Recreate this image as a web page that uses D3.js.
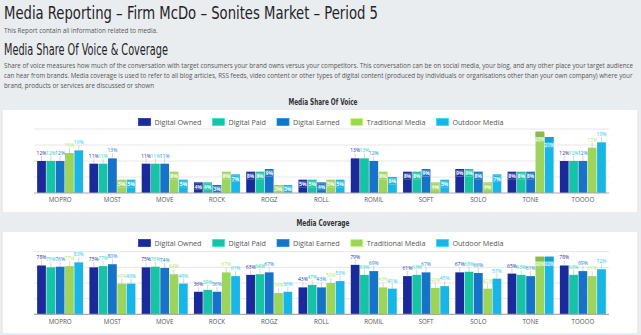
<!DOCTYPE html>
<html><head><meta charset="utf-8">
<script src="https://cdn.jsdelivr.net/npm/d3@7"></script>
<style>
html,body{margin:0;padding:0;background:#eaedf0;overflow:hidden;}
svg{display:block;}
</style></head><body>
<svg id="page" width="641" height="335"></svg>
<script>
// ---- data ----
const categories = ["MOPRO","MOST","MOVE","ROCK","ROGZ","ROLL","ROMIL","SOFT","SOLO","TONE","TOOOO"];
const seriesNames = ["Digital Owned","Digital Paid","Digital Earned","Traditional Media","Outdoor Media"];

// Media share of voice (%)
const sovOwned       = [12,11,11,4,8,5,13,8,9,8,12];
const sovPaid        = [12,11,11,4,8,5,13,8,9,8,12];
const sovEarned      = [12,13,11,3,9,4,12,9,8,8,12];
const sovTraditional = [15,5,8,8,3,5,8,4,4,23,17];
const sovOutdoor     = [16,5,5,7,3,5,6,5,7,21,19];
const sovTicks = [0,6,12,18,24];

// Media coverage (%)
const covOwned       = [78,75,75,36,63,43,79,61,67,65,78];
const covPaid        = [75,77,76,39,64,47,63,63,68,63,63];
const covEarned      = [76,80,74,36,67,43,69,67,66,61,69];
const covTraditional = [77,49,64,67,34,50,43,42,41,92,61];
const covOutdoor     = [83,49,49,61,36,53,41,45,57,92,72];
const covTicks = [0,25,50,75,100];

const seriesColors = ["#1b2a9a","#16c3a6","#1673c7","#9dd45b","#18b6e6"];

// ---- page ----
const svg = d3.select("#page");
svg.append("rect").attr("width",641).attr("height",335).attr("fill","#eaedf0");

// Writes a line of text and scales its font size so it spans the given width.
function fitText(x, y, str, size, family, color, len, weight) {
  const t = svg.append("text").attr("x",x).attr("y",y).text(str)
    .attr("font-size",size).attr("font-family",family).attr("fill",color)
    .attr("font-weight",weight||"normal");
  if (len) {
    const w = t.node().getComputedTextLength();
    t.attr("font-size", size * len / w);
  }
  return t;
}

const headFont = "'DejaVu Sans Condensed','DejaVu Sans',sans-serif";
const bodyFont = "'Open Sans','Noto Sans',sans-serif";

const title = fitText(4, 18.5, "Media Reporting \u2013 Firm McDo \u2013 Sonites Market \u2013 Period 5", 18, headFont, "#1f2326");
title.attr("textLength",374).attr("lengthAdjust","spacingAndGlyphs");
fitText(4, 33, "This Report contain all information related to media.", 6.6, bodyFont, "#555", 154);
const head = fitText(4, 55, "Media Share Of Voice & Coverage", 16, headFont, "#1f2326");
head.attr("textLength",164).attr("lengthAdjust","spacingAndGlyphs");
fitText(4, 68.3, "Share of voice measures how much of the conversation with target consumers your brand owns versus your competitors. This conversation can be on social media, your blog, and any other place your target audience", 6.6, bodyFont, "#555", 630);
fitText(4, 78.3, "can hear from brands. Media coverage is used to refer to all blog articles, RSS feeds, video content or other types of digital content (produced by individuals or organisations other than your own company) where your", 6.6, bodyFont, "#555", 630);
fitText(4, 88.3, "brand, products or services are discussed or shown", 6.6, bodyFont, "#555", 150);

// ---- grouped bar chart ----
function drawChart(cfg) {
  const g = svg.append("g");
  g.append("rect").attr("x",3).attr("y",cfg.cardTop).attr("width",634).attr("height",cfg.cardHeight).attr("fill","#fff");

  g.append("text").attr("x",cfg.titleX).attr("y",cfg.titleY).attr("text-anchor","middle")
    .attr("font-family",headFont).attr("font-weight","bold").attr("font-size",9.2)
    .attr("fill","#333").attr("textLength",cfg.titleLen).attr("lengthAdjust","spacingAndGlyphs")
    .text(cfg.title);

  // legend
  const lg = g.append("g");
  let lx = 0;
  seriesNames.forEach((name,i) => {
    const it = lg.append("g").attr("transform",`translate(${lx},0)`);
    it.append("rect").attr("x",0).attr("y",-3.5).attr("width",12).attr("height",7)
      .attr("fill",seriesColors[i]).attr("stroke",d3.color(seriesColors[i]).brighter(0.6)).attr("stroke-width",0.8);
    const t = it.append("text").attr("x",16).attr("y",2.6).attr("font-family",bodyFont)
      .attr("font-size",7.2).attr("fill","#555").text(name);
    lx += 16 + t.node().getComputedTextLength() + 11;
  });
  lx -= 11;
  lg.attr("transform",`translate(${cfg.legendCx - lx/2},${cfg.legendY})`);

  const x0 = d3.scaleBand().domain(categories).range([34,609]).paddingInner(0.12).paddingOuter(0.06);
  const x1 = d3.scaleBand().domain(seriesNames).range([0,x0.bandwidth()]).paddingInner(0.06);
  const y = d3.scaleLinear().domain([0,cfg.ticks[cfg.ticks.length-1]]).range([cfg.base,cfg.top]);

  // gridlines
  g.append("g").selectAll("line").data(cfg.ticks.slice(1)).join("line")
    .attr("x1",34).attr("x2",609).attr("y1",d=>y(d)).attr("y2",d=>y(d))
    .attr("stroke","#e6e6e6").attr("stroke-width",1);

  // bars with value labels
  cfg.series.forEach((vals,si) => {
    const col = seriesColors[si];
    const sg = g.append("g");
    vals.forEach((v,ci) => {
      const bx = x0(categories[ci]) + x1(seriesNames[si]);
      const bw = x1.bandwidth();
      const by = y(v);
      sg.append("rect").attr("x",bx).attr("y",by).attr("width",bw).attr("height",cfg.base-by)
        .attr("fill",col);
      const label = v + "%";
      const cx = bx + bw/2;
      const crowded = by - cfg.top < 10;
      if (crowded) {
        // no room above the bar: label tucked under a cap strip
        sg.append("rect").attr("x",bx).attr("y",by).attr("width",bw).attr("height",cfg.stripH)
          .attr("fill",d3.color(col).darker(0.35));
        sg.append("rect").attr("x",bx+0.5).attr("y",by+cfg.stripH).attr("width",bw-1).attr("height",5)
          .attr("fill","rgba(255,255,255,0.25)");
        sg.append("text").attr("x",cx).attr("y",by+cfg.stripH+4.3).attr("text-anchor","middle")
          .attr("font-family",bodyFont).attr("font-size",5).attr("fill","#fff").text(label);
      } else if (cfg.insideSmall && String(v).length < 2) {
        sg.append("rect").attr("x",bx+1).attr("y",by+1.5).attr("width",bw-2).attr("height",6)
          .attr("fill","none").attr("stroke","rgba(255,255,255,0.45)").attr("stroke-width",0.5);
        sg.append("text").attr("x",cx).attr("y",by+6.3).attr("text-anchor","middle")
          .attr("font-family",bodyFont).attr("font-weight","bold").attr("font-size",4.8)
          .attr("fill","#fff").text(label);
      } else {
        sg.append("line").attr("x1",cx).attr("x2",cx).attr("y1",by).attr("y2",by-5)
          .attr("stroke","#bbb").attr("stroke-width",0.6);
        sg.append("text").attr("x",cx).attr("y",by-6).attr("text-anchor","middle")
          .attr("font-family",bodyFont).attr("font-size",5).attr("fill",d3.color(col).brighter(0.3)).text(label);
      }
    });
  });

  // baseline and category axis
  const ax = g.append("g").attr("transform",`translate(0,${cfg.base})`)
    .call(d3.axisBottom(x0).tickSize(0).tickPadding(5));
  ax.select(".domain").attr("stroke","#aaa").attr("stroke-width",1.2).attr("d",`M34,0H609`);
  ax.selectAll("text").attr("font-family",bodyFont).attr("font-size",6.2).attr("fill","#555");
}

drawChart({
  cardTop:110, cardHeight:102, title:"Media Share Of Voice", titleX:323, titleY:104.5, titleLen:69,
  legendCx:321, legendY:122, top:129, base:193, ticks:sovTicks, insideSmall:true, stripH:5.5,
  series:[sovOwned,sovPaid,sovEarned,sovTraditional,sovOutdoor]
});
drawChart({
  cardTop:232, cardHeight:101, title:"Media Coverage", titleX:323, titleY:226, titleLen:53,
  legendCx:321, legendY:243, top:251.7, base:314.3, ticks:covTicks, insideSmall:false, stripH:4.5,
  series:[covOwned,covPaid,covEarned,covTraditional,covOutdoor]
});
</script>
</body></html>
